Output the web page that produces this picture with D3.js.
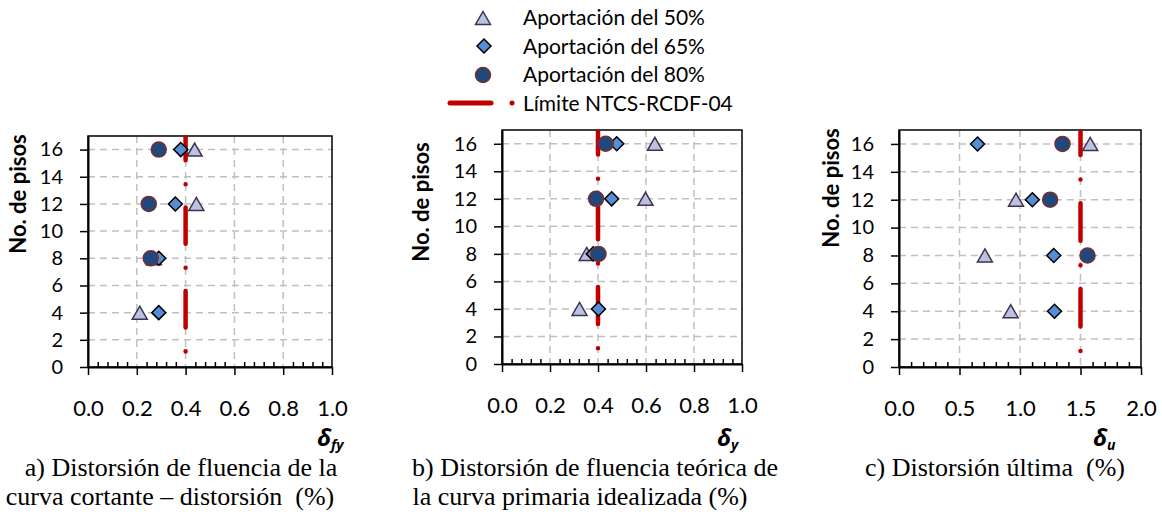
<!DOCTYPE html>
<html>
<head>
<meta charset="utf-8">
<script src="https://cdn.jsdelivr.net/npm/d3@7"></script>
<style>
  body { margin: 0; background: #fff; }
  svg { display: block; }
  .cap { white-space: pre; }
</style>
</head>
<body>
<div class="chart"></div>
<script>
// storeys of the buildings (y values)
var floors = [16, 12, 8, 4];
var floors80 = [16, 12, 8];
var yTicks = [0, 2, 4, 6, 8, 10, 12, 14, 16];

// a) yield drift of the shear-drift curve
var fyA50 = [0.437, 0.444, 0.27, 0.212];
var fyA65 = [0.38, 0.358, 0.29, 0.29];
var fyA80 = [0.29, 0.249, 0.257];
// b) theoretical yield drift of idealized curve
var yB50 = [0.637, 0.598, 0.353, 0.323];
var yB65 = [0.478, 0.457, 0.38, 0.402];
var yB80 = [0.432, 0.392, 0.402];
// c) ultimate drift
var uC50 = [1.58, 0.967, 0.71, 0.923];
var uC65 = [0.649, 1.102, 1.279, 1.285];
var uC80 = [1.351, 1.249, 1.558];

var limits = [0.4, 0.4, 1.5];
var xTicksAB = [0, 0.2, 0.4, 0.6, 0.8, 1.0];
var xTicksC = [0, 0.5, 1.0, 1.5, 2.0];

var legendNames = ["Aportación del 50%", "Aportación del 65%", "Aportación del 80%", "Límite NTCS-RCDF-04"];

var width = 1162;
var height = 519;

var svg = d3.select(".chart")
    .append("svg")
    .attr("width", width)
    .attr("height", height);

var tickFont = "Lato, 'Open Sans', sans-serif";
var serif = "'Liberation Serif', 'Times New Roman', serif";
var limitRed = "#c00000";

// marker shapes, centred on their box
var triPath = "M0,-6.5L7.5,6.5L-7.5,6.5Z";
var diaPath = "M0,-7L7,0L0,7L-7,0Z";

function triangle(sel) {
    sel.attr("d", triPath)
        .attr("fill", "#b9c3df")
        .attr("stroke", "#3f3151")
        .attr("stroke-width", 1.5);
}
function diamond(sel) {
    sel.attr("d", diaPath)
        .attr("fill", "#558ed5")
        .attr("stroke", "#000")
        .attr("stroke-width", 1.5);
}
function dot(sel) {
    sel.attr("r", 7.5)
        .attr("fill", "#1f497d")
        .attr("stroke", "#7b2c2c")
        .attr("stroke-width", 1.5);
}

var panels = [
    {left: 88, right: 332, top: 136, bottom: 367, xmax: 1.0, minor: 0.04, ticks: xTicksAB,
     s50: fyA50, s65: fyA65, s80: fyA80, limit: limits[0], sub: "fy", symX: 317,
     titleX: 26, titleY: 194,
     caption: ["a) Distorsión de fluencia de la", "curva cortante – distorsión  (%)"], capX: [181, 170]},
    {left: 502, right: 742, top: 130, bottom: 364, xmax: 1.0, minor: 0.04, ticks: xTicksAB,
     s50: yB50, s65: yB65, s80: yB80, limit: limits[1], sub: "y", symX: 717,
     titleX: 429, titleY: 202,
     caption: ["b) Distorsión de fluencia teórica de", "la curva primaria idealizada (%)"], capX: [595, 580]},
    {left: 899, right: 1141, top: 130, bottom: 367, xmax: 2.0, minor: 0.1, ticks: xTicksC,
     s50: uC50, s65: uC65, s80: uC80, limit: limits[2], sub: "u", symX: 1093,
     titleX: 839, titleY: 188,
     caption: ["c) Distorsión última  (%)"], capX: [995]}
];

panels.forEach(function (p, i) {
    var x = d3.scaleLinear().domain([0, p.xmax]).range([p.left, p.right]);
    var y = d3.scaleLinear().domain([0, 17]).range([p.bottom, p.top]);
    var g = svg.append("g");

    svg.append("clipPath").attr("id", "clip" + i)
        .append("rect")
        .attr("x", p.left).attr("y", p.top)
        .attr("width", p.right - p.left).attr("height", p.bottom - p.top);

    // dashed grid
    g.selectAll(".hgrid")
        .data(yTicks.filter(function (d) { return d > 0; }))
        .enter()
        .append("line")
        .attr("x1", p.left).attr("x2", p.right)
        .attr("y1", function (d) { return y(d); })
        .attr("y2", function (d) { return y(d); })
        .attr("stroke", "#c0c0c0")
        .attr("stroke-width", 1.5)
        .attr("stroke-dasharray", "7,5");
    g.selectAll(".vgrid")
        .data(p.ticks.filter(function (d) { return d > 0 && d < p.xmax; }))
        .enter()
        .append("line")
        .attr("y1", p.top).attr("y2", p.bottom)
        .attr("x1", function (d) { return x(d); })
        .attr("x2", function (d) { return x(d); })
        .attr("stroke", "#c0c0c0")
        .attr("stroke-width", 1.5)
        .attr("stroke-dasharray", "7,5");

    // frame
    g.append("rect")
        .attr("x", p.left).attr("y", p.top)
        .attr("width", p.right - p.left).attr("height", p.bottom - p.top)
        .attr("fill", "none")
        .attr("stroke", "#000")
        .attr("stroke-width", 1.5);

    // limit line: long dash + dot
    var D = y(0) - y(1);
    var lw = 4.5;
    var dashA = [3.0 * D - lw, 1.6 * D + lw / 2, 0.01, 1.55 * D + lw / 2 - 0.01];
    var offset = 3.0 * D - lw - ((17 - 15.05) * D - lw / 2);
    g.append("path")
        .datum([17, 0])
        .attr("clip-path", "url(#clip" + i + ")")
        .attr("d", d3.line()
            .x(function () { return x(p.limit); })
            .y(function (d) { return y(d); }))
        .attr("fill", "none")
        .attr("stroke", limitRed)
        .attr("stroke-width", lw)
        .attr("stroke-linecap", "round")
        .attr("stroke-dasharray", dashA.join(","))
        .attr("stroke-dashoffset", offset);

    // series
    g.selectAll(".tri")
        .data(p.s50)
        .enter()
        .append("path")
        .attr("transform", function (d, k) { return "translate(" + x(d) + "," + y(floors[k]) + ")"; })
        .call(triangle);
    g.selectAll(".dia")
        .data(p.s65)
        .enter()
        .append("path")
        .attr("transform", function (d, k) { return "translate(" + x(d) + "," + y(floors[k]) + ")"; })
        .call(diamond);
    g.selectAll(".cir")
        .data(p.s80)
        .enter()
        .append("circle")
        .attr("cx", function (d) { return x(d); })
        .attr("cy", function (d, k) { return y(floors80[k]); })
        .call(dot);

    // y axis
    var ya = g.append("g")
        .attr("transform", "translate(" + p.left + ",0)")
        .call(d3.axisLeft(y).tickValues(yTicks).tickSizeInner(8).tickSizeOuter(0).tickPadding(17));
    ya.select(".domain").attr("stroke-width", 2);
    ya.selectAll(".tick line").attr("stroke-width", 1.5);
    ya.selectAll("text").attr("font-family", tickFont).attr("font-size", 20).attr("fill", "#000");

    // x axis: minor ticks inside, major ticks outside, labels set lower
    var minorVals = d3.range(0, Math.round(p.xmax / p.minor) + 1)
        .map(function (k) { return k * p.minor; })
        .filter(function (v) { return p.ticks.every(function (t) { return Math.abs(t - v) > 1e-6; }); });
    var xm = g.append("g")
        .attr("transform", "translate(0," + p.bottom + ")")
        .call(d3.axisBottom(x).tickValues(minorVals).tickSizeInner(-5).tickSizeOuter(0).tickFormat(""));
    xm.select(".domain").remove();
    xm.selectAll(".tick line").attr("stroke-width", 1.5);

    var xa = g.append("g")
        .attr("transform", "translate(0," + p.bottom + ")")
        .call(d3.axisBottom(x).tickValues(p.ticks).tickSizeInner(8).tickSizeOuter(0).tickFormat(d3.format(".1f")));
    xa.select(".domain").attr("stroke-width", 2);
    xa.selectAll(".tick line").attr("stroke-width", 1.5);
    xa.selectAll("text")
        .attr("y", 49).attr("dy", 0)
        .attr("font-family", tickFont).attr("font-size", 22).attr("fill", "#000");

    // y title
    svg.append("text")
        .attr("transform", "translate(" + p.titleX + "," + p.titleY + ") rotate(-90)")
        .attr("text-anchor", "middle")
        .attr("font-family", tickFont)
        .attr("font-weight", "bold")
        .attr("font-size", 22)
        .text("No. de pisos");

    // delta symbol
    var sym = svg.append("text")
        .attr("x", p.symX).attr("y", 446)
        .attr("font-family", "'Noto Sans', 'DejaVu Sans', sans-serif")
        .attr("font-weight", "bold")
        .attr("font-style", "italic")
        .attr("font-size", 24);
    sym.append("tspan").text("δ");
    sym.append("tspan").attr("font-size", 14).attr("dy", 4).text(p.sub);

    // caption
    p.caption.forEach(function (c, k) {
        svg.append("text")
            .attr("class", "cap")
            .attr("x", p.capX[k]).attr("y", 476 + k * 29)
            .attr("text-anchor", "middle")
            .attr("font-family", serif)
            .attr("font-size", 26)
            .text(c);
    });
});

// legend
var leg = svg.append("g");
var legY = [18, 46, 75];
leg.append("path").attr("transform", "translate(483," + legY[0] + ")").call(triangle);
leg.append("path").attr("transform", "translate(484," + legY[1] + ")").call(diamond);
leg.append("circle").attr("cx", 483).attr("cy", legY[2]).call(dot);
leg.append("line")
    .attr("x1", 450).attr("x2", 491).attr("y1", 103).attr("y2", 103)
    .attr("stroke", limitRed).attr("stroke-width", 5).attr("stroke-linecap", "round");
leg.append("circle").attr("cx", 512).attr("cy", 103).attr("r", 2.5).attr("fill", limitRed);
leg.selectAll(".lt")
    .data(legendNames)
    .enter()
    .append("text")
    .attr("x", 523)
    .attr("y", function (d, k) { return 25 + k * 28.7; })
    .attr("font-family", tickFont)
    .attr("font-size", 21)
    .text(function (d) { return d; });
</script>
</body>
</html>
